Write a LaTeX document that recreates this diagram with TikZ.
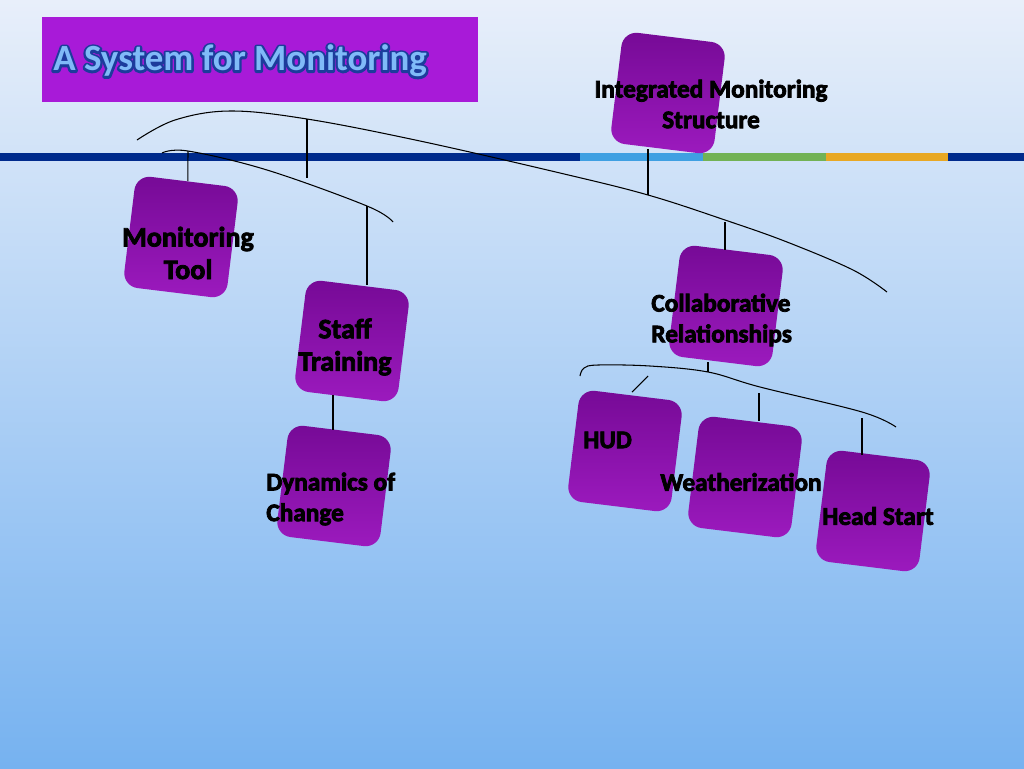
\documentclass[tikz,border=0pt]{standalone}
\usepackage{fontspec}
\setmainfont{Carlito}
\usetikzlibrary{positioning}
\definecolor{bgtop}{HTML}{E8EFFA}
\definecolor{bgbot}{HTML}{76B2F0}
\definecolor{titlepurple}{HTML}{A81AD8}
\definecolor{titleblue}{HTML}{80BAF8}
\definecolor{titleedge}{HTML}{1C3C9C}
\definecolor{cubetop}{HTML}{760A96}
\definecolor{cubemid}{HTML}{9414B6}
\definecolor{cubebot}{HTML}{9C1ABE}
\definecolor{barnavy}{HTML}{002B8C}
\definecolor{barsky}{HTML}{3FA0E2}
\definecolor{bargreen}{HTML}{72B255}
\definecolor{barorange}{HTML}{E8A824}
% heavier strokes on text
\newcommand{\thick}{\special{pdf:literal direct 2 Tr 0.45 w}}
\newcommand{\plain}{\special{pdf:literal direct 0 Tr}}
\newcommand{\edged}[1]{\rlap{\color{titleedge}\special{pdf:literal direct 1 Tr 2.6 w 1 j}#1\plain}#1}

\begin{document}
\begin{tikzpicture}[x=0.02cm, y=-0.02cm,
  cube/.style={rectangle, rounded corners=0.3cm, minimum width=2.08cm,
    minimum height=2.24cm, rotate=-7, top color=cubetop,
    middle color=cubemid, bottom color=cubebot, inner sep=0pt},
  lbl/.style={font=\fontsize{14.4}{17.5}\selectfont\bfseries, inner sep=0pt,
    execute at begin node=\thick, execute at end node=\plain},
  biglbl/.style={lbl, font=\fontsize{16}{18.5}\selectfont\bfseries},
  link/.style={draw=black, line width=0.6pt}]

% background
\shade[top color=bgtop, bottom color=bgbot] (0,0) rectangle (1024,768);
\useasboundingbox (0,0) rectangle (1024,768);

% title
\node [fill=titlepurple, minimum width=8.72cm, minimum height=1.7cm,
  inner sep=0pt] (titlebox) at (260,59.5) {};
\node [anchor=west, inner sep=0pt, text=titleblue,
  font=\fontsize{21}{24}\selectfont\bfseries] (titletext) at (53,61)
  {\edged{A System for Monitoring}};

% stripe
\fill [barnavy] (0,153) rectangle (580,161);
\fill [barsky] (580,153) rectangle (703,161);
\fill [bargreen] (703,153) rectangle (826,161);
\fill [barorange] (826,153) rectangle (948,161);
\fill [barnavy] (948,153) rectangle (1024,161);

% cubes
\node [cube] (integ) at (668,93) {};
\node [cube] (mtool) at (181,237) {};
\node [cube] (staff) at (352,341) {};
\node [cube] (dyn) at (334,486) {};
\node [cube] (collab) at (726,306) {};
\node [cube] (hud) at (625,451) {};
\node [cube] (weather) at (745,477) {};
\node [cube] (head) at (873,511) {};

% labels
\node [lbl, align=center] (integ-l) at (711,104) {Integrated Monitoring\\Structure};
\node [biglbl, align=center] (mtool-l) at (188,253) {Monitoring\\Tool};
\node [biglbl, align=center] (staff-l) at (345,347) {Staff\\Training};
\node [lbl, align=left, anchor=west] (dyn-l) at (266,499) {Dynamics of\\Change};
\node [lbl, align=left, anchor=west] (collab-l) at (651,320) {Collaborative\\Relationships};
\node [lbl, anchor=west] (hud-l) at (583,440) {HUD};
\node [lbl] (weather-l) at (741,482) {Weatherization};
\node [lbl] (head-l) at (878,516) {Head Start};

% curve points
\coordinate (t1) at (137,140);
\coordinate (t2) at (307,119);
\coordinate (t3) at (648,195);
\coordinate (t4) at (725,222);
\coordinate (t5) at (887,292);
\coordinate (s1) at (162,153);
\coordinate (s2) at (188,151);
\coordinate (s3) at (307,178);
\coordinate (s4) at (367,206);
\coordinate (s5) at (393,222);
\coordinate (b1) at (580,376);
\coordinate (b2) at (708,372);
\coordinate (b3) at (648,376);
\coordinate (b4) at (759,393);
\coordinate (b5) at (862,418);
\coordinate (b6) at (896,427);

% brackets
\draw [link] plot [smooth, tension=0.6] coordinates
  {(t1) (175,120) (230,111) (t2) (420,141) (560,173) (t3) (725,220) (787,242) (853,270) (t5)};
\draw [link] plot [smooth, tension=0.6] coordinates
  {(s1) (s2) (267,170) (s4) (s5)};
\draw [link] plot [smooth, tension=0.6] coordinates
  {(b1) (584,368) (598,365) (650,366) (b2) (760,387) (862,412) (b6)};

% connectors
\draw [link] (t3) -- (t3 |- integ.south);
\draw [link] (t2) -- (s3);
\draw [link] (s2) -- (mtool.north);
\draw [link] (s4) -- (s4 |- staff.north);
\coordinate (d1) at (333,395);
\draw [link] (d1) -- (d1 |- dyn.north);
\draw [link] (t4) -- (t4 |- collab.north);
\draw [link] (b2) -- (b2 |- collab.south);
\draw [link] (b3) -- (632,392) coordinate (h1);
\draw [link] (b4) -- (b4 |- weather.north);
\draw [link] (b5) -- (b5 |- head.north);
\end{tikzpicture}
\end{document}
